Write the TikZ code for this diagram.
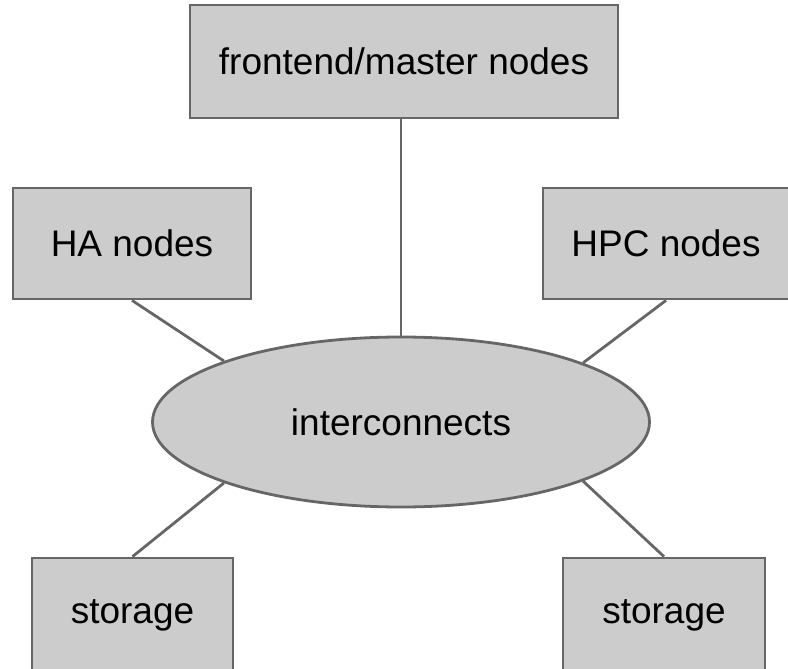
\documentclass[tikz,border=0pt]{standalone}
\usepackage{fontspec}
\setmainfont{Liberation Sans}
\usetikzlibrary{shapes.geometric}

\definecolor{boxfill}{HTML}{CCCCCC}
\definecolor{boxline}{HTML}{666666}

\begin{document}
\begin{tikzpicture}[x=1pt,y=-1pt,
    box/.style={draw=boxline,fill=boxfill,line width=2.8pt,inner sep=0pt,
                font=\fontsize{37}{44}\selectfont},
    link/.style={draw=boxline,line width=2.8pt}]
   \useasboundingbox (0,0) rectangle (788,669);

  \draw(404,61.5) node[box,minimum width=428,minimum height=113] (FE) {frontend/master nodes};
  \draw(132,243.5) node[box,minimum width=238,minimum height=111] (HA) {HA nodes};
  \draw(666,243.5) node[box,minimum width=246,minimum height=111] (HPC) {HPC nodes};

  \draw(401,422) node[box,ellipse,minimum width=497,minimum height=170] (IC) {interconnects};

  \draw(132.5,615) node[box,minimum width=201,minimum height=114] (SL) {storage};
  \draw(664,615) node[box,minimum width=202,minimum height=114] (SR) {storage};

  \draw[link] (FE.south -| IC.north) -- (IC.north);
  \draw[link] (HA.south)  -- (IC.161);
  \draw[link] (HPC.south) -- (IC.18);
  \draw[link] (SL.north)  -- (IC.199);
  \draw[link] (SR.north)  -- (IC.-18);

\end{tikzpicture}
\end{document}
